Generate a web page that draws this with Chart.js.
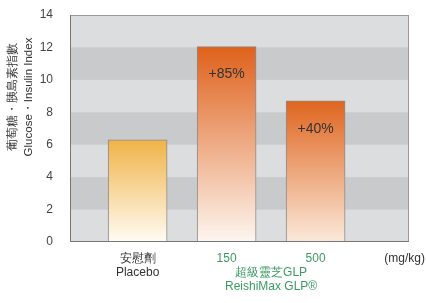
<!DOCTYPE html>
<html><head><meta charset="utf-8">
<script src="https://cdn.jsdelivr.net/npm/chart.js@4"></script>
<style>html,body{margin:0;padding:0;background:#fff;}#wrap{width:426px;height:303px;}</style>
</head><body><div id="wrap"><canvas id="c" width="426" height="303"></canvas></div>
<script>
const categories = ['安慰劑|Placebo', '150', '500'];
const positions = [1, 2, 3];
const values = [6.3, 12.05, 8.7];
const changeLabels = ['', '+85%', '+40%'];
const unitLabel = '(mg/kg)';
const groupLabel = ['超級靈芝GLP', 'ReishiMax GLP®'];
const yTicks = [0, 2, 4, 6, 8, 10, 12, 14];
const yTitle = ['葡萄糖・胰島素指數', 'Glucose・Insulin Index'];

const FONT = '"Liberation Sans", Arial, sans-serif';
const GREEN = '#3b9a63';
const topColors = ['#f0b347', '#df611b', '#df651f'];
const bottomColors = ['#fffcf4', '#fdf6f0', '#fbe9da'];

const tickLabelMap = {};
tickLabelMap[1] = categories[0].split('|');
tickLabelMap[2] = [categories[1]];
tickLabelMap[2.5] = ['', groupLabel[0], groupLabel[1]];
tickLabelMap[3] = [categories[2]];
tickLabelMap[4] = [unitLabel];

const bandPlugin = {
  id: 'bands',
  beforeDraw(chart) {
    const {ctx, chartArea: a, scales: {y}} = chart;
    ctx.save();
    ctx.fillStyle = '#dcdddf';
    ctx.fillRect(a.left, a.top, a.right - a.left, a.bottom - a.top);
    ctx.fillStyle = '#c9cacc';
    for (let v = 2; v < 14; v += 4) {
      const y1 = y.getPixelForValue(v + 2), y0 = y.getPixelForValue(v);
      ctx.fillRect(a.left, y1, a.right - a.left, y0 - y1);
    }
    ctx.restore();
  },
  afterDraw(chart) {
    const {ctx, chartArea: a} = chart;
    ctx.save();
    ctx.strokeStyle = '#9a9a9a';
    ctx.lineWidth = 1;
    ctx.strokeRect(a.left + 0.5, a.top + 0.5, a.right - a.left - 1, a.bottom - a.top - 1);
    ctx.strokeStyle = '#777';
    ctx.beginPath();
    ctx.moveTo(a.left + 0.5, a.top); ctx.lineTo(a.left + 0.5, a.bottom);
    ctx.moveTo(a.left, a.bottom - 0.5); ctx.lineTo(a.right, a.bottom - 0.5);
    ctx.stroke();
    const meta = chart.getDatasetMeta(0);
    ctx.fillStyle = '#333';
    ctx.font = '14px ' + FONT;
    ctx.textAlign = 'center';
    ctx.textBaseline = 'middle';
    meta.data.forEach((bar, i) => {
      if (changeLabels[i]) ctx.fillText(changeLabels[i], bar.x, bar.y + 28);
    });
    ctx.font = '11.5px ' + FONT;
    ctx.fillStyle = '#333';
    const cy = 97;
    [[13, yTitle[0]], [29, yTitle[1]]].forEach(([x, t]) => {
      ctx.save();
      ctx.translate(x, cy);
      ctx.rotate(-Math.PI / 2);
      ctx.fillText(t, 0, 0);
      ctx.restore();
    });
    ctx.restore();
  }
};

new Chart(document.getElementById('c'), {
  type: 'bar',
  data: {
    datasets: [{
      data: positions.map((p, i) => ({x: p, y: values[i]})),
      barThickness: 59,
      borderColor: '#8a8a8a',
      borderWidth: 1,
      borderSkipped: 'bottom',
      backgroundColor(ctx) {
        const chart = ctx.chart;
        const a = chart.chartArea;
        if (!a || ctx.dataIndex === undefined) return topColors[0];
        const i = ctx.dataIndex;
        const yTop = chart.scales.y.getPixelForValue(values[i]);
        const g = chart.ctx.createLinearGradient(0, yTop, 0, a.bottom);
        g.addColorStop(0, topColors[i]);
        g.addColorStop(1, bottomColors[i]);
        return g;
      }
    }]
  },
  options: {
    responsive: false,
    animation: false,
    events: [],
    layout: {padding: {top: 15, right: 17, left: 0, bottom: 0}},
    plugins: {legend: {display: false}, tooltip: {enabled: false}},
    scales: {
      x: {
        type: 'linear',
        offset: false,
        min: 0.24, max: 4.05,
        grid: {display: false, drawTicks: false, offset: false},
        border: {display: false},
        afterBuildTicks(scale) {
          scale.ticks = [1, 2, 2.5, 3, 4].map(v => ({value: v}));
        },
        afterFit(scale) { scale.height = 61; scale.paddingLeft = 0; scale.paddingRight = 0; },
        ticks: {
          autoSkip: false, maxRotation: 0, minRotation: 0,
          padding: 10,
          font: {family: FONT, size: 12, lineHeight: '14px'},
          color(ctx) {
            const v = ctx.tick && ctx.tick.value;
            return (v === 2 || v === 2.5 || v === 3) ? GREEN : '#333';
          },
          callback(v) { return tickLabelMap[v] || ''; }
        }
      },
      y: {
        min: 0, max: 14,
        grid: {display: false, drawTicks: false},
        border: {display: false},
        afterBuildTicks(scale) { scale.ticks = yTicks.map(v => ({value: v})); },
        afterFit(scale) { scale.width = 70; scale.paddingTop = 0; scale.paddingBottom = 0; },
        ticks: {padding: 17, color: '#444', font: {family: FONT, size: 12}}
      }
    }
  },
  plugins: [bandPlugin]
});
</script></body></html>
